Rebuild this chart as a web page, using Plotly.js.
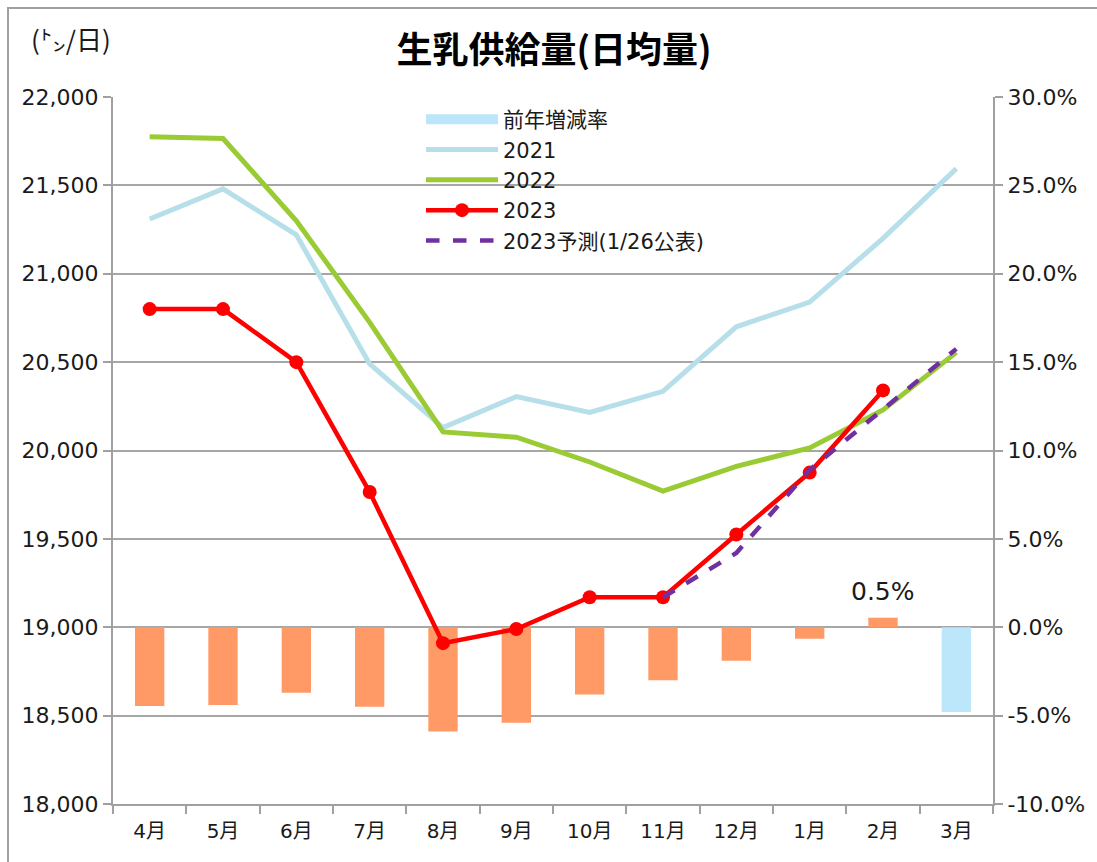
<!DOCTYPE html>
<html>
<head>
<meta charset="utf-8">
<script src="https://cdn.plot.ly/plotly-3.0.1.min.js"></script>
<style>
html,body{margin:0;padding:0;background:#fff;}
#wrap{position:relative;width:1097px;height:862px;overflow:hidden;}
#chart{position:absolute;left:0;top:0;width:1097px;height:862px;}
#frame{position:absolute;left:7px;top:7px;width:1120px;height:900px;border:2px solid #a0a0a0;box-sizing:border-box;pointer-events:none;}
</style>
</head>
<body>
<div id="wrap"><div id="chart"></div><div id="frame"></div></div>
<script>
const months = ["4月","5月","6月","7月","8月","9月","10月","11月","12月","1月","2月","3月"];
const s2021 = [21310, 21480, 21220, 20490, 20130, 20305, 20215, 20335, 20700, 20840, 21200, 21595];
const s2022 = [21775, 21765, 21300, 20725, 20105, 20075, 19935, 19770, 19910, 20015, 20230, 20555];
const s2023 = [20800, 20800, 20500, 19765, 18910, 18990, 19170, 19170, 19525, 19875, 20340, null];
const forecastMonths = ["11月","12月","1月","2月","3月"];
const forecast = [19170, 19420, 19890, 20230, 20575];
const yoyPct = [-4.45, -4.4, -3.7, -4.5, -5.9, -5.4, -3.8, -3.0, -1.9, -0.65, 0.54, -4.8];
const barColors = ["#FF9966","#FF9966","#FF9966","#FF9966","#FF9966","#FF9966","#FF9966","#FF9966","#FF9966","#FF9966","#FF9966","#BCE6FA"];
const leftTicks = [18000, 18500, 19000, 19500, 20000, 20500, 21000, 21500, 22000];
const rightTicks = [-10, -5, 0, 5, 10, 15, 20, 25, 30];
const rightTickText = ["-10.0%","-5.0%","0.0%","5.0%","10.0%","15.0%","20.0%","25.0%","30.0%"];
const leftTickText = ["18,000","18,500","19,000","19,500","20,000","20,500","21,000","21,500","22,000"];

const FONT = "DejaVu Sans, Noto Sans CJK JP, sans-serif";

const traces = [
  {type:"scatter", mode:"lines", name:"前年増減率", x:[null], y:[null], line:{color:"#BCE6FA", width:11},
   xaxis:"x", yaxis:"y", hoverinfo:"skip"},
  {type:"scatter", mode:"lines", name:"2021", x:months, y:s2021, xaxis:"x", yaxis:"y2",
   line:{color:"#B7DFE9", width:5}},
  {type:"scatter", mode:"lines", name:"2022", x:months, y:s2022, xaxis:"x", yaxis:"y2",
   line:{color:"#9ACB34", width:5}},
  {type:"scatter", mode:"lines+markers", name:"2023", x:months, y:s2023, xaxis:"x", yaxis:"y2",
   line:{color:"#FF0000", width:4.5}, marker:{color:"#FF0000", size:14}},
  {type:"scatter", mode:"lines", name:"2023予測(1/26公表)", x:forecastMonths, y:forecast, xaxis:"x", yaxis:"y2",
   line:{color:"#7030A0", width:4.5, dash:"dash"}},
  {type:"bar", name:"前年増減率", x:months, y:yoyPct, marker:{color:barColors}, width:0.4,
   xaxis:"x", yaxis:"y", showlegend:false}
];

const layout = {
  width:1097, height:862,
  margin:{l:113, r:104, t:97, b:58},
  paper_bgcolor:"#ffffff", plot_bgcolor:"#ffffff",
  font:{family:FONT, color:"#1a1a1a", size:22},
  barmode:"overlay",
  showlegend:true,
  title:{text:"<b>生乳供給量(日均量)</b>", x:0.505, xref:"container", y:0.942, yref:"container", yanchor:"middle",
         font:{family:"Noto Sans CJK JP, sans-serif", size:36, color:"#000"}},
  legend:{x:0.35, y:0.997, xanchor:"left", yanchor:"top", bgcolor:"rgba(0,0,0,0)",
          font:{family:FONT, size:21, color:"#1a1a1a"}, traceorder:"normal", itemwidth:72},
  xaxis:{type:"category", categoryorder:"array", categoryarray:months, range:[-0.5, 11.5],
         showline:true, linecolor:"#a0a0a0", linewidth:2, ticks:"outside", tickson:"boundaries",
         ticklen:8, tickcolor:"#a0a0a0", tickwidth:2, showgrid:false, zeroline:false,
         ticklabelstandoff:8,
         tickfont:{family:FONT, size:20, color:"#1a1a1a"}},
  yaxis:{side:"right", range:[-10, 30], tickvals:rightTicks, ticktext:rightTickText,
         showline:true, linecolor:"#a0a0a0", linewidth:2, ticks:"outside", ticklen:8, tickcolor:"#a0a0a0", tickwidth:2,
         showgrid:true, gridcolor:"#a6a6a6", gridwidth:2, zeroline:false,
         tickfont:{family:FONT, size:22, color:"#1a1a1a"}},
  yaxis2:{side:"left", overlaying:"y", range:[18000, 22000], tickvals:leftTicks, ticktext:leftTickText,
          showline:true, linecolor:"#a0a0a0", linewidth:2, ticks:"outside", ticklen:8, tickcolor:"#a0a0a0", tickwidth:2,
          showgrid:false, zeroline:false,
          tickfont:{family:FONT, size:22, color:"#1a1a1a"}},
  annotations:[
    {text:"0.5%", x:"2月", y:yoyPct[10], xref:"x", yref:"y", yanchor:"bottom", yshift:10, showarrow:false,
     font:{family:FONT, size:25, color:"#1a1a1a"}},
    {text:"(㌧/日)", xref:"paper", yref:"paper", x:-0.048, y:1.083, xanchor:"center", yanchor:"middle", showarrow:false,
     font:{family:"Noto Sans CJK JP, sans-serif", size:26, color:"#1a1a1a"}}
  ]
};

Plotly.newPlot("chart", traces, layout, {displayModeBar:false, staticPlot:true});
</script>
</body>
</html>
